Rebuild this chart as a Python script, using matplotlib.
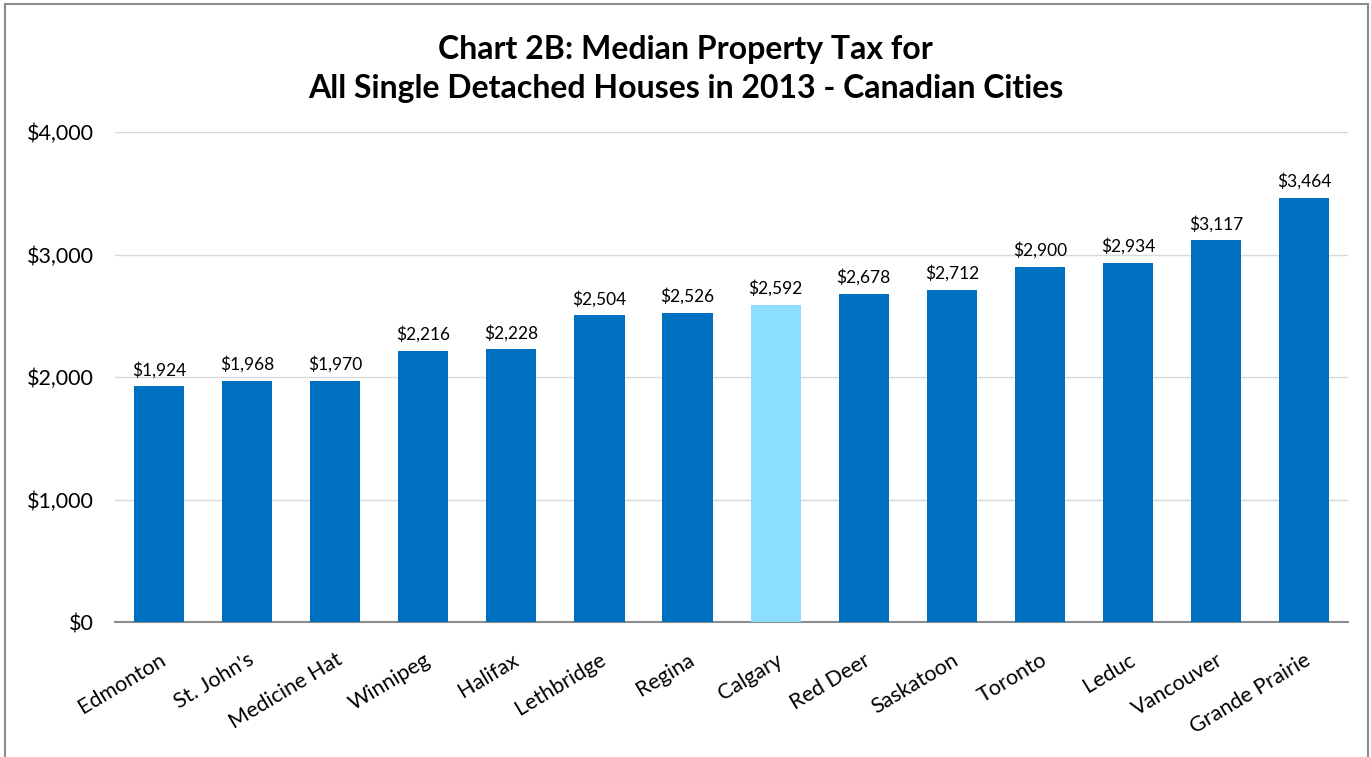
import numpy as np
import matplotlib.pyplot as plt
from matplotlib.patches import Rectangle
from matplotlib.ticker import FuncFormatter

plt.rcParams['font.family'] = ['Lato', 'DejaVu Sans']

cities = ["Edmonton", "St. John's", "Medicine Hat", "Winnipeg", "Halifax", "Lethbridge",
          "Regina", "Calgary", "Red Deer", "Saskatoon", "Toronto", "Leduc", "Vancouver",
          "Grande Prairie"]
tax = [1924, 1968, 1970, 2216, 2228, 2504, 2526, 2592, 2678, 2712, 2900, 2934, 3117, 3464]
highlight = "Calgary"

colors = ["#8DDFFF" if c == highlight else "#0070C0" for c in cities]

fig = plt.figure(figsize=(13.71, 7.57), dpi=100)
ax = fig.add_axes([0.0839, 0.1783, 0.8994, 0.6473])

x = np.arange(len(cities))
bars = ax.bar(x, tax, width=0.57, color=colors, zorder=3)
for xi, v in zip(x, tax):
    ax.text(xi, v + 65, f"${v:,}", ha='center', va='bottom', fontsize=12.5)

ax.set_xlim(-0.5, len(cities) - 0.5)
ax.set_ylim(0, 4000)
ax.set_yticks([0, 1000, 2000, 3000, 4000])
ax.yaxis.set_major_formatter(FuncFormatter(lambda v, p: f"${int(v):,}"))
ax.grid(axis='y', color='#D9D9D9', linewidth=1, zorder=0)
for s in ['top', 'right', 'left']:
    ax.spines[s].set_visible(False)
ax.spines['bottom'].set_color('#8C8C8C')
ax.spines['bottom'].set_linewidth(1.5)
ax.tick_params(axis='both', length=0, labelsize=15.5)
ax.tick_params(axis='y', pad=15)
ax.set_xticks(x)
ax.set_xticklabels(cities, rotation=31, ha='right', rotation_mode='anchor')
ax.tick_params(axis='x', pad=20)

fig.text(0.5, 0.935, "Chart 2B: Median Property Tax for", ha='center', va='center',
         fontsize=23, fontweight='bold')
fig.text(0.5, 0.883, "All Single Detached Houses in 2013 - Canadian Cities", ha='center',
         va='center', fontsize=23, fontweight='bold')

fig.patches.append(Rectangle((0.0036, -0.02), 0.9942, 1.0147, transform=fig.transFigure,
                             fill=False, edgecolor='#8C8C8C', linewidth=1.5))

plt.savefig("out.png", dpi=100)
